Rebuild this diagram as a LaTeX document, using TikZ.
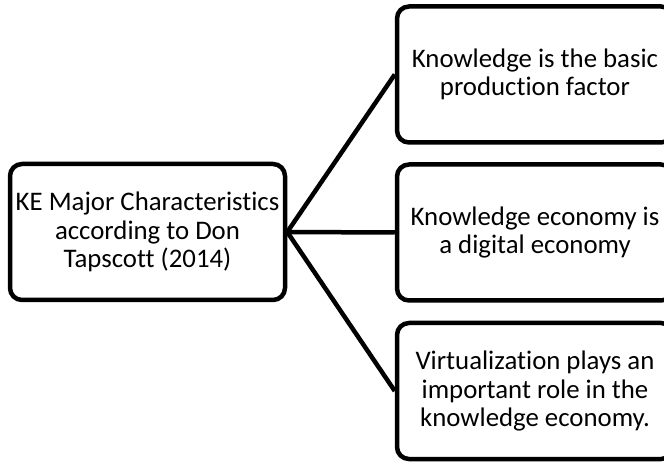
\documentclass[tikz,border=0pt]{standalone}
\usepackage{fontspec}
\setmainfont[Ligatures=NoCommon]{Carlito}
\begin{document}
\begin{tikzpicture}[x=1pt,y=-1pt,
  box/.style={draw=black, line width=4.5pt, rounded corners=12pt, fill=white,
    align=center, inner sep=0pt, minimum height=136pt,
    font=\fontsize{26.8}{28.4}\selectfont},
  link/.style={draw=black, line width=4.5pt}]
  \useasboundingbox (0,0) rectangle (664,462);
  \clip (0,0) rectangle (664,462);
  % central topic
  \node[box, minimum width=275pt] (ke) at (147.5,232)
    {KE Major Characteristics\\according to Don\\Tapscott (2014)};
  % characteristics (right column runs past the page edge)
  \node[box, minimum width=276pt] (c1) at (535,74.5)
    {Knowledge is the basic\\production factor};
  \node[box, minimum width=276pt] (c2) at (535,232.5)
    {Knowledge economy is\\a digital economy};
  \node[box, minimum width=276pt] (c3) at (535,391)
    {Virtualization plays an\\important role in the\\knowledge economy.};
  % connectors
  \draw[link] (ke.east) -- (c1.west);
  \draw[link] (ke.east) -- (c2.west);
  \draw[link] (ke.east) -- (c3.west);
\end{tikzpicture}
\end{document}
